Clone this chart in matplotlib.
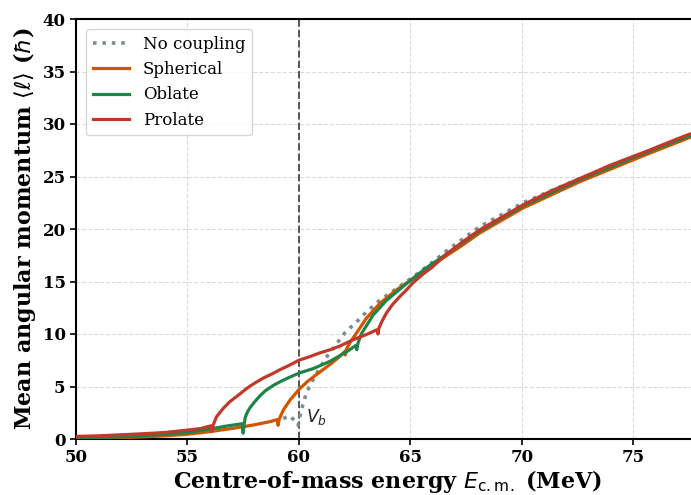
import matplotlib
matplotlib.use("Agg")
import matplotlib.pyplot as plt

plt.rcParams['font.family'] = ['DejaVu Serif']
plt.rcParams['mathtext.fontset'] = 'dejavusans'

# ---- data ----
E_none = [59.3, 59.6, 59.78, 59.97, 60.08, 60.2, 60.34, 60.57, 60.9, 61.24, 61.6, 62.06, 62.66,
          63.03, 63.63, 64.23, 64.98, 66.1, 66.62, 68.1, 70.06, 72.6, 75.6, 78.0]
L_none = [1.95, 2.2, 1.8, 1.3, 2.5, 3.4, 4.4, 5.4, 6.6, 7.8, 8.8, 10.1, 11.3,
          12.1, 13.2, 14.1, 15.2, 17.0, 17.9, 20.2, 22.5, 24.8, 27.3, 29.3]

E_sph = [50, 51, 52, 53, 54, 55, 56, 57, 58, 58.7, 59.03, 59.07, 59.12, 59.3, 59.6, 60.04,
         60.4, 60.8, 61.4, 61.8, 62.04, 62.08, 62.12, 62.3, 62.59, 63.03, 63.63, 64.38,
         65.28, 66.3, 67.3, 68.1, 70.06, 72.6, 75.6, 78.0]
L_sph = [0.05, 0.08, 0.13, 0.2, 0.3, 0.45, 0.7, 1.0, 1.35, 1.65, 1.85, 1.3, 1.9, 2.75, 3.7, 4.8,
         5.5, 6.15, 7.1, 7.8, 8.3, 8.0, 8.5, 9.2, 10.1, 11.5, 12.9, 14.2,
         15.5, 17.0, 18.4, 19.6, 22.0, 24.5, 27.1, 29.1]

E_obl = [50, 51, 52, 53, 54, 55, 56, 56.8, 57.45, 57.5, 57.55, 57.6, 57.7, 57.8, 58.0, 58.25,
         58.5, 58.85, 59.2, 59.6, 60.04, 60.64, 61.4, 62.14, 62.55, 62.6, 62.65, 62.8, 63.33,
         63.93, 64.83, 65.72, 66.62, 68.1, 70.06, 72.6, 75.6, 78.0]
L_obl = [0.1, 0.13, 0.2, 0.3, 0.45, 0.62, 0.95, 1.25, 1.45, 0.55, 1.5, 2.1, 2.6, 2.95, 3.5, 4.1,
         4.6, 5.1, 5.5, 5.9, 6.3, 6.7, 7.4, 8.3, 8.9, 8.5, 9.1, 10.0, 11.8,
         13.2, 14.8, 16.3, 17.6, 19.8, 22.2, 24.7, 27.3, 29.25]

E_pro = [50, 51, 52, 53, 54, 55, 55.6, 56.05, 56.1, 56.15, 56.3, 56.6, 56.9, 57.3, 57.65, 58.0,
         58.4, 58.8, 59.15, 59.6, 60.0, 60.5, 60.94, 61.4, 61.84, 62.43, 63.03, 63.5, 63.55,
         63.6, 63.75, 63.93, 64.2, 64.5, 64.83, 65.13, 65.57, 66.0, 66.62, 67.3, 68.1, 69.0,
         70.06, 71.3, 72.6, 74.0, 75.6, 77.0, 78.0]
L_pro = [0.25, 0.3, 0.4, 0.5, 0.62, 0.85, 1.0, 1.25, 0.75, 1.3, 2.1, 2.9, 3.55, 4.2, 4.8, 5.3,
         5.8, 6.2, 6.6, 7.05, 7.5, 7.85, 8.2, 8.5, 8.85, 9.45, 9.95, 10.4, 10.0,
         10.6, 11.3, 12.0, 12.8, 13.5, 14.2, 14.9, 15.7, 16.4, 17.6, 18.7, 19.9, 21.0,
         22.3, 23.6, 24.8, 26.1, 27.4, 28.6, 29.4]

V_b = 60.0
x_ticks = [50, 55, 60, 65, 70, 75]
y_ticks = [0, 5, 10, 15, 20, 25, 30, 35, 40]

# ---- figure ----
fig = plt.figure(figsize=(6.91, 4.95), dpi=100)
ax = fig.add_axes([76/691, 56/495, 624/691, 420/495])

ax.grid(True, color='#cccccc', linestyle='--', linewidth=0.8, alpha=0.7)
ax.set_axisbelow(True)

ax.axvline(V_b, color='#555555', linestyle='--', linewidth=1.4, zorder=1)

ax.plot(E_none, L_none, color='#7f8c8d', linestyle=(0, (1, 1.6)), linewidth=2.6,
        label='No coupling', zorder=2)
ax.plot(E_sph, L_sph, color='#d35400', linewidth=2.3, label='Spherical', zorder=3)
ax.plot(E_obl, L_obl, color='#1e8449', linewidth=2.3, label='Oblate', zorder=4)
ax.plot(E_pro, L_pro, color='#c0392b', linewidth=2.3, label='Prolate', zorder=5)

ax.text(V_b + 0.3, 1.6, r'$V_b$', fontsize=12.5, color='#222222')

ax.set_xlim(50, 78)
ax.set_ylim(0, 40)
ax.set_xticks(x_ticks)
ax.set_yticks(y_ticks)
for lab in ax.get_xticklabels() + ax.get_yticklabels():
    lab.set_fontweight('bold')
    lab.set_fontsize(12)
ax.tick_params(width=1.2, length=4)
for sp in ax.spines.values():
    sp.set_linewidth(1.5)

ax.set_xlabel(r'Centre-of-mass energy $E_{\rm c.m.}$ (MeV)', fontsize=16, fontweight='bold',
              labelpad=1)
ax.set_ylabel(r'Mean angular momentum $\langle \ell \rangle$ ($\hbar$)', fontsize=16,
              fontweight='bold', labelpad=3)

leg = ax.legend(loc='upper left', fontsize=12, frameon=True, handlelength=2.2,
                borderaxespad=0.6)
leg.get_frame().set_edgecolor('#cccccc')

fig.savefig('out.png', dpi=100)
